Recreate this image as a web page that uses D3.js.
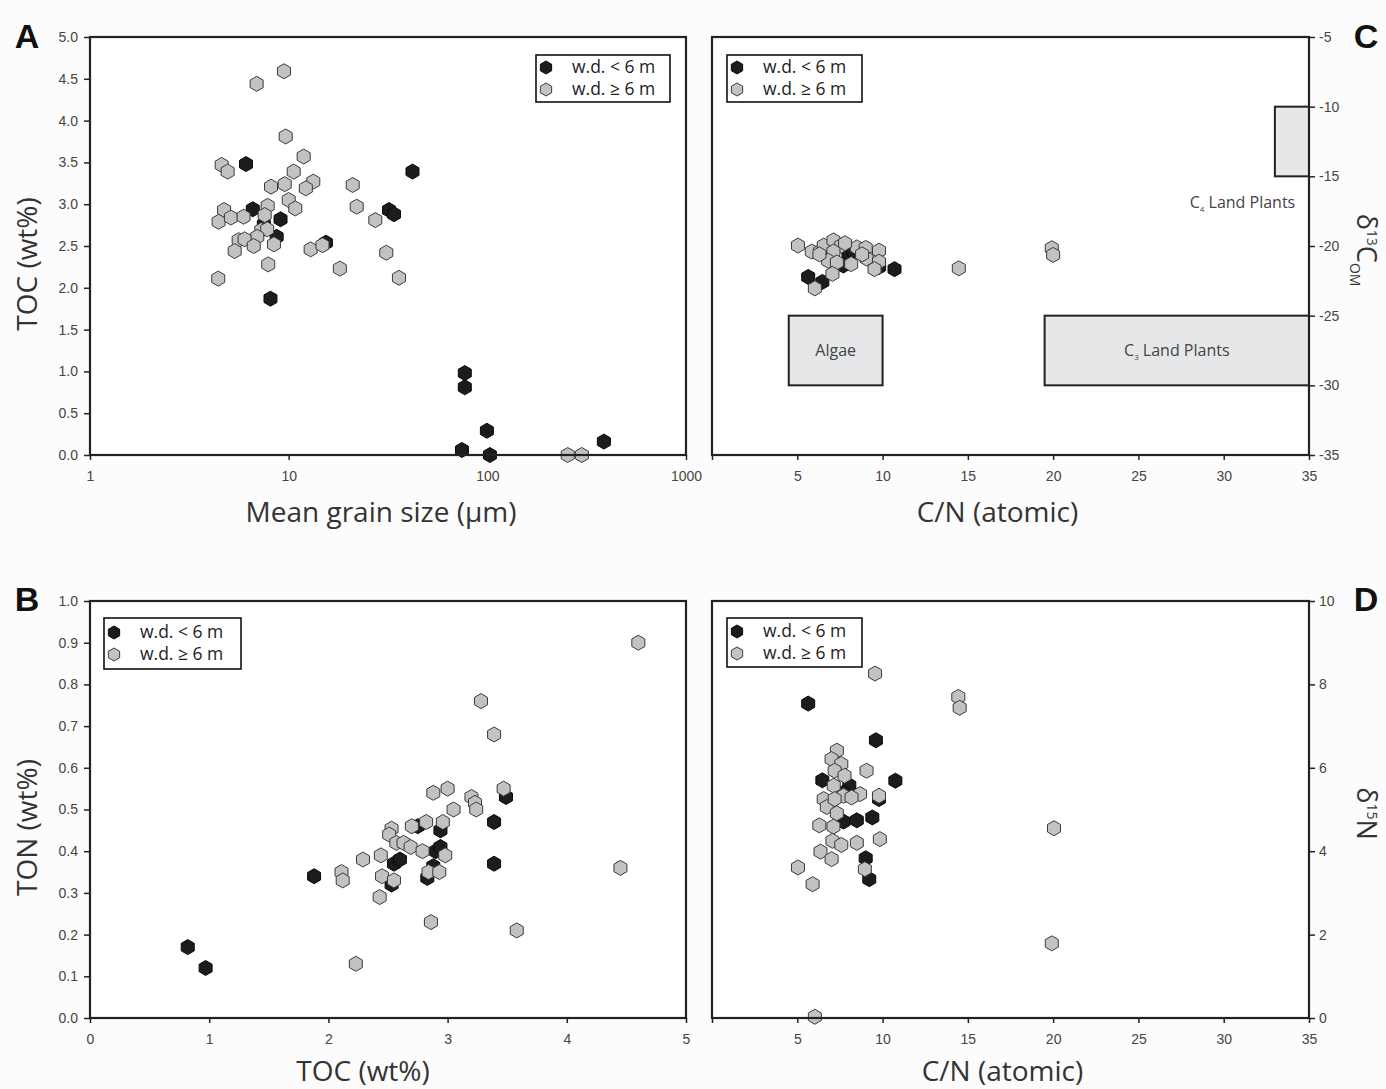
<!DOCTYPE html>
<html>
<head>
<meta charset="utf-8">
<script src="https://cdn.jsdelivr.net/npm/d3@7"></script>
<style>
body{margin:0;background:#fcfcfc;}
svg{display:block;font-family:"Open Sans",sans-serif;}
.tick text{fill:#444;}
</style>
</head>
<body>
<script>
// A: mean grain size (um) vs TOC (wt%)
var grainShallow = [[6.1,3.48],[42,3.39],[6.6,2.94],[9.1,2.82],[32,2.93],[33.9,2.88],[7.5,2.76],[8.7,2.61],[15.4,2.54],[8.1,1.87],[77,0.98],[77,0.81],[74.5,0.06],[99.5,0.29],[103,0.0],[386,0.16]];
var grainDeep = [[9.66,3.81],[11.9,3.57],[4.6,3.47],[4.93,3.39],[10.6,3.39],[8.15,3.21],[9.55,3.24],[13.3,3.27],[12.2,3.19],[21.0,3.23],[10.0,3.05],[10.8,2.95],[22,2.97],[27.3,2.81],[4.73,2.93],[4.44,2.79],[5.12,2.84],[5.93,2.85],[7.84,2.98],[7.57,2.87],[7.28,2.69],[7.8,2.70],[6.95,2.61],[5.6,2.57],[6.0,2.58],[6.67,2.50],[8.43,2.52],[5.35,2.44],[12.9,2.46],[14.8,2.51],[7.89,2.28],[18.1,2.23],[31,2.42],[4.42,2.11],[35.9,2.12],[6.9,4.44],[9.47,4.59],[254,0],[299,0]];

// B: TOC vs TON (wt%)
var tonShallow = [[0.82,0.17],[0.97,0.12],[1.88,0.34],[2.53,0.32],[2.55,0.37],[2.60,0.38],[2.75,0.46],[2.83,0.336],[2.88,0.364],[2.90,0.40],[2.94,0.41],[2.94,0.45],[3.39,0.47],[3.39,0.37],[3.49,0.53]];
var tonDeep = [[4.60,0.90],[3.28,0.76],[3.39,0.68],[2.88,0.54],[3.0,0.55],[3.20,0.53],[3.23,0.516],[3.24,0.50],[3.47,0.55],[3.05,0.50],[2.70,0.46],[2.82,0.47],[2.96,0.47],[2.53,0.454],[2.51,0.44],[2.57,0.42],[2.63,0.42],[2.69,0.41],[2.79,0.40],[2.98,0.39],[2.44,0.39],[2.29,0.38],[2.11,0.35],[2.12,0.33],[2.45,0.34],[2.55,0.33],[2.43,0.29],[2.84,0.35],[2.93,0.35],[2.86,0.23],[2.23,0.13],[3.58,0.21],[4.45,0.36]];

// C: C/N vs d13C
var d13Shallow = [[5.64,-22.22],[6.47,-22.58],[10.7,-21.66],[8.0,-20.7],[9.8,-21.5],[7.7,-21.4],[8.3,-20.4]];
var d13Deep = [[5.04,-19.97],[5.85,-20.4],[6.34,-20.4],[6.55,-19.97],[7.12,-19.6],[7.58,-19.97],[7.12,-20.4],[6.81,-21.06],[7.32,-21.18],[8.16,-21.3],[7.06,-22.0],[6.03,-23.04],[8.49,-20.1],[9.01,-20.14],[9.79,-20.33],[9.06,-20.9],[9.79,-21.13],[9.53,-21.66],[14.47,-21.6],[19.92,-20.16],[20.0,-20.64],[7.8,-19.8],[6.3,-20.6],[8.8,-20.6]];
// source fields: name, C/N from-to, d13C from-to, label anchor
var sourceBoxes = [
  {name:"Algae", sub:"", cn:[4.5,10], d13:[-25,-30], at:[7.25,-27.5]},
  {name:"C", sub:"3", rest:" Land Plants", cn:[19.5,35], d13:[-25,-30], at:[27.25,-27.5]},
  {name:"C", sub:"4", rest:" Land Plants", cn:[33,35], d13:[-10,-15], at:[31.1,-16.9]}
];

// D: C/N vs d15N
var d15Shallow = [[5.64,7.54],[9.61,6.66],[6.47,5.70],[8.05,5.58],[10.75,5.69],[7.71,4.71],[8.49,4.74],[9.40,4.81],[9.01,3.83],[9.22,3.33],[9.79,5.25],[7.7,5.4]];
var d15Deep = [[9.56,8.26],[14.44,7.70],[14.52,7.44],[7.32,6.41],[7.01,6.21],[7.58,6.09],[9.06,5.93],[7.19,5.93],[7.77,5.81],[7.14,5.57],[7.71,5.33],[6.55,5.25],[8.68,5.37],[8.18,5.29],[9.79,5.33],[6.73,5.06],[7.19,5.25],[7.32,4.91],[6.29,4.62],[7.12,4.59],[20.05,4.55],[7.06,4.25],[7.58,4.15],[8.49,4.20],[9.84,4.29],[6.36,3.99],[7.01,3.81],[5.04,3.61],[8.96,3.57],[5.9,3.21],[19.92,1.79],[6.03,0.03]];

var legendLabels = ["w.d. < 6 m", "w.d. \u2265 6 m"];
var tickA_x = [1,10,100,1000], tickA_y = d3.range(0,5.01,0.5);
var tickB_x = [0,1,2,3,4,5], tickB_y = d3.range(0,1.01,0.1);
var tickCN = [0,5,10,15,20,25,30,35];
var tickC_y = [-5,-10,-15,-20,-25,-30,-35], tickD_y = [0,2,4,6,8,10];

var W = 1386, H = 1089;
var svg = d3.select("body").append("svg").attr("width",W).attr("height",H);

function hexPath(r){
    var pts = d3.range(6).map(function(i){
        var a = Math.PI/3*i - Math.PI/2;
        return [r*Math.cos(a), r*Math.sin(a)];
    });
    return "M"+pts.join("L")+"Z";
}
var HEX = hexPath(7.5);
var styles = {
    shallow:{fill:"#1c1c1c", stroke:"#0a0a0a"},
    deep:{fill:"#c2c2c2", stroke:"#3a3a3a"}
};

function drawPanel(cfg){
    var g = svg.append("g").attr("transform","translate("+cfg.left+","+cfg.top+")");
    var x = cfg.x.range([0,cfg.w]);
    var y = cfg.y.range([cfg.h,0]);

    g.append("rect").attr("width",cfg.w).attr("height",cfg.h).attr("fill","#fff");

    if(cfg.boxes) {
        var bx = g.selectAll("g.box").data(cfg.boxes).enter().append("g").attr("class","box");
        bx.append("rect")
            .attr("x",function(d){return x(d.cn[0]);})
            .attr("y",function(d){return y(d.d13[0]);})
            .attr("width",function(d){return x(d.cn[1])-x(d.cn[0]);})
            .attr("height",function(d){return y(d.d13[1])-y(d.d13[0]);})
            .attr("fill","#e6e7e9").attr("stroke","#222").attr("stroke-width",2);
        var bt = bx.append("text")
            .attr("x",function(d){return x(d.at[0]);})
            .attr("y",function(d){return y(d.at[1]);})
            .attr("dy","0.35em").attr("text-anchor","middle")
            .style("font-size","16px").style("fill","#444");
        bt.append("tspan").text(function(d){return d.name;});
        bt.append("tspan").attr("dy","4").style("font-size","8px").text(function(d){return d.sub;});
        bt.append("tspan").attr("dy","-4").text(function(d){return d.rest||"";});
    }

    // x axis
    var xa = d3.axisBottom(x).tickValues(cfg.xticks).tickSize(5).tickSizeOuter(0).tickPadding(11)
        .tickFormat(function(d){ return cfg.hideZero && d===0 ? "" : d; });
    g.append("g").attr("transform","translate(0,"+cfg.h+")").call(xa)
        .call(function(s){s.select(".domain").remove();})
        .call(function(s){s.selectAll("line").attr("stroke","#222").attr("stroke-width",1.5);})
        .selectAll("text").style("font-size","14px");

    // y axis
    var ya = (cfg.right ? d3.axisRight(y) : d3.axisLeft(y))
        .tickValues(cfg.yticks).tickSize(6).tickSizeOuter(0).tickPadding(cfg.right ? 4 : 6)
        .tickFormat(cfg.yfmt);
    g.append("g").attr("transform","translate("+(cfg.right?cfg.w:0)+",0)").call(ya)
        .call(function(s){s.select(".domain").remove();})
        .call(function(s){s.selectAll("line").attr("stroke","#222").attr("stroke-width",1.5);})
        .selectAll("text").style("font-size","14px");

    // points
    [["shallow",cfg.shallow],["deep",cfg.deep]].forEach(function(p){
        g.append("g").selectAll("path").data(p[1]).enter().append("path")
            .attr("d",HEX)
            .attr("transform",function(d){return "translate("+x(d[0])+","+y(d[1])+")";})
            .attr("fill",styles[p[0]].fill).attr("stroke",styles[p[0]].stroke).attr("stroke-width",1);
    });

    g.append("rect").attr("width",cfg.w).attr("height",cfg.h)
        .attr("fill","none").attr("stroke","#222").attr("stroke-width",2.2);

    // legend
    var L = cfg.legend;
    var lg = g.append("g").attr("transform","translate("+L[0]+","+L[1]+")");
    lg.append("rect").attr("width",L[2]).attr("height",L[3])
        .attr("fill","#fff").attr("stroke","#111").attr("stroke-width",1.6);
    ["shallow","deep"].forEach(function(k,i){
        var row = lg.append("g").attr("transform","translate(0,"+(L[3]/2 + (i-0.5)*22)+")");
        row.append("path").attr("d",hexPath(6.5)).attr("transform","translate(10,0)")
            .attr("fill",styles[k].fill).attr("stroke",styles[k].stroke);
        row.append("text").attr("x",36).attr("dy","0.33em")
            .style("font-size","17.5px").style("fill","#222").text(legendLabels[i]);
    });

    // x title
    g.append("text").attr("x",cfg.w/2 + cfg.xtOff).attr("y",cfg.h+cfg.xtY)
        .attr("text-anchor","middle").style("font-size","28px").style("fill","#333")
        .text(cfg.xtitle);

    // y title
    if(!cfg.right) {
        g.append("text").attr("transform","translate(-53,"+(cfg.h/2+18)+") rotate(-90)")
            .attr("text-anchor","middle").style("font-size","28px").style("fill","#333")
            .text(cfg.ytitle);
    } else {
        var t = g.append("text").attr("transform","translate("+(cfg.w+48)+","+(cfg.h/2+4)+") rotate(90)")
            .attr("text-anchor","middle").style("font-size","27px").style("fill","#333");
        t.append("tspan").text("\u03b4");
        t.append("tspan").attr("dy","-10").style("font-size","14px").text(cfg.ytitle[0]);
        t.append("tspan").attr("dy","10").text(cfg.ytitle[1]);
        if(cfg.ytitle[2]) t.append("tspan").attr("dy","7").style("font-size","14px").text(cfg.ytitle[2]);
    }

    // panel letter
    svg.append("text").attr("x",cfg.letter[0]).attr("y",cfg.letter[1])
        .attr("text-anchor","middle")
        .style("font-family","'Liberation Sans',Arial,sans-serif").style("font-weight","bold")
        .style("font-size","34px").style("fill","#111").text(cfg.letter[2]);
}

var f1 = d3.format(".1f");

drawPanel({left:90, top:37, w:596, h:418,
    x:d3.scaleLog().domain([1,1000]), y:d3.scaleLinear().domain([0,5]),
    xticks:tickA_x, yticks:tickA_y, yfmt:f1,
    shallow:grainShallow, deep:grainDeep,
    legend:[446,18,134,47], xtitle:"Mean grain size (\u00b5m)", xtOff:-7, xtY:67, ytitle:"TOC (wt%)",
    letter:[27,48,"A"]});

drawPanel({left:712, top:37, w:597, h:418, right:true, hideZero:true,
    x:d3.scaleLinear().domain([0,35]), y:d3.scaleLinear().domain([-35,-5]),
    xticks:tickCN, yticks:tickC_y, yfmt:function(d){return String(d).replace("\u2212","-");},
    shallow:d13Shallow, deep:d13Deep, boxes:sourceBoxes,
    legend:[15,18,135,47], xtitle:"C/N (atomic)", xtOff:-13, xtY:67, ytitle:["13","C","OM"],
    letter:[1366,48,"C"]});

drawPanel({left:90, top:601, w:596, h:417,
    x:d3.scaleLinear().domain([0,5]), y:d3.scaleLinear().domain([0,1]),
    xticks:tickB_x, yticks:tickB_y, yfmt:f1,
    shallow:tonShallow, deep:tonDeep,
    legend:[14,17,137,51], xtitle:"TOC (wt%)", xtOff:-25, xtY:63, ytitle:"TON (wt%)",
    letter:[27,611,"B"]});

drawPanel({left:712, top:601, w:597, h:417, right:true, hideZero:true,
    x:d3.scaleLinear().domain([0,35]), y:d3.scaleLinear().domain([0,10]),
    xticks:tickCN, yticks:tickD_y, yfmt:function(d){return d;},
    shallow:d15Shallow, deep:d15Deep,
    legend:[15,17,135,49], xtitle:"C/N (atomic)", xtOff:-8, xtY:63, ytitle:["15","N"],
    letter:[1366,611,"D"]});
</script>
</body>
</html>
